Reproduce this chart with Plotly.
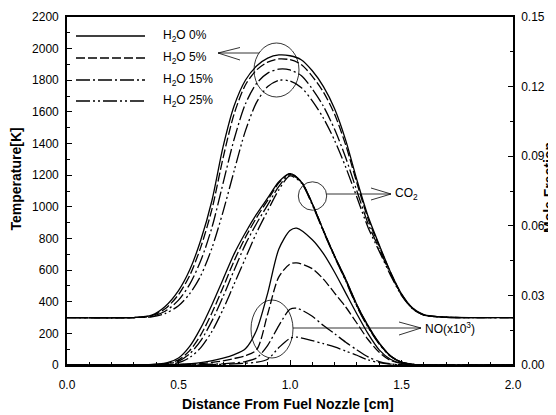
import plotly.graph_objects as go

# ---------------- data ----------------
x_T = [0, 0.3, 0.38, 0.44, 0.5, 0.55, 0.6, 0.65, 0.7, 0.75, 0.8, 0.85, 0.9, 0.95, 1.0,
       1.05, 1.1, 1.15, 1.2, 1.25, 1.3, 1.35, 1.4, 1.45, 1.5, 1.55, 1.6, 1.7, 2.0]
T_h2o0 = [300, 300, 315, 370, 470, 600, 790, 1040, 1380, 1640, 1800, 1890, 1940, 1960, 1955,
          1930, 1860, 1760, 1620, 1420, 1170, 940, 760, 590, 450, 360, 318, 302, 300]
T_h2o5 = [300, 300, 312, 355, 445, 565, 745, 985, 1310, 1590, 1770, 1865, 1915, 1935, 1930,
          1900, 1825, 1725, 1585, 1390, 1150, 925, 752, 587, 448, 358, 317, 302, 300]
T_h2o15 = [300, 300, 308, 340, 410, 510, 660, 870, 1150, 1430, 1650, 1780, 1845, 1870, 1865,
           1830, 1745, 1635, 1490, 1310, 1100, 895, 735, 578, 443, 356, 316, 302, 300]
T_h2o25 = [300, 300, 305, 325, 375, 450, 565, 740, 970, 1230, 1480, 1660, 1760, 1800, 1795,
           1755, 1670, 1560, 1420, 1250, 1060, 870, 720, 570, 440, 355, 316, 302, 300]

x_CO2 = [0, 0.35, 0.45, 0.5, 0.55, 0.6, 0.65, 0.7, 0.75, 0.8, 0.85, 0.9, 0.95, 1.0,
         1.05, 1.1, 1.15, 1.2, 1.25, 1.3, 1.35, 1.4, 1.45, 1.5, 1.55, 1.6, 2.0]
CO2_h2o0 = [0, 0, 0.001, 0.003, 0.008, 0.016, 0.026, 0.037, 0.048, 0.057, 0.065, 0.072, 0.079, 0.0825,
            0.079, 0.0695, 0.058, 0.047, 0.037, 0.026, 0.017, 0.0095, 0.004, 0.0012, 0.0003, 0, 0]
CO2_h2o5 = [0, 0, 0.0007, 0.0022, 0.0062, 0.013, 0.0225, 0.0335, 0.045, 0.055, 0.0635, 0.071, 0.0785, 0.0825,
            0.079, 0.0695, 0.058, 0.047, 0.0368, 0.0258, 0.0168, 0.0094, 0.004, 0.0012, 0.0003, 0, 0]
CO2_h2o15 = [0, 0, 0.0005, 0.0016, 0.0048, 0.0105, 0.019, 0.0295, 0.041, 0.052, 0.061, 0.069, 0.077, 0.082,
             0.079, 0.0695, 0.0578, 0.0468, 0.0365, 0.0255, 0.0165, 0.0092, 0.0039, 0.0012, 0.0003, 0, 0]
CO2_h2o25 = [0, 0, 0.0003, 0.001, 0.0032, 0.0075, 0.0145, 0.024, 0.035, 0.046, 0.057, 0.0665, 0.0755, 0.0815,
             0.0785, 0.069, 0.0575, 0.0465, 0.0362, 0.0252, 0.0163, 0.009, 0.0038, 0.0011, 0.0003, 0, 0]

x_NO = [0, 0.5, 0.6, 0.7, 0.75, 0.8, 0.85, 0.9, 0.95, 1.0, 1.03, 1.1, 1.15, 1.2,
        1.25, 1.3, 1.35, 1.4, 1.45, 1.5, 1.6, 2.0]
NO_h2o0 = [0, 0.0003, 0.001, 0.003, 0.0045, 0.007, 0.015, 0.031, 0.050, 0.058, 0.059, 0.054, 0.048, 0.040,
           0.031, 0.022, 0.0135, 0.0065, 0.0025, 0.0007, 0, 0]
NO_h2o5 = [0, 0.0002, 0.0006, 0.0018, 0.0028, 0.004, 0.0065, 0.022, 0.038, 0.0435, 0.044, 0.0415, 0.037, 0.031,
           0.025, 0.018, 0.011, 0.0055, 0.002, 0.0006, 0, 0]
NO_h2o15 = [0, 0.0001, 0.0003, 0.0005, 0.0009, 0.0015, 0.003, 0.0085, 0.017, 0.024, 0.0245, 0.021, 0.017, 0.0135,
            0.0098, 0.0065, 0.0035, 0.0015, 0.0005, 0.0001, 0, 0]
NO_h2o25 = [0, 0, 0.0001, 0.0003, 0.0005, 0.0008, 0.0012, 0.0025, 0.0075, 0.0115, 0.012, 0.0105, 0.0092, 0.0078,
            0.006, 0.0042, 0.0022, 0.001, 0.0004, 0.0001, 0, 0]

legend_labels = ["H<sub>2</sub>O 0%", "H<sub>2</sub>O 5%", "H<sub>2</sub>O 15%", "H<sub>2</sub>O 25%"]

# ---------------- styles ----------------
dashes = ["solid", "9px,3px", "14px,3px,2px,3px", "14px,3px,2px,3px,2px,3px"]
LW = 1.3
FONT = "Liberation Sans, Arial, sans-serif"

# plot area in screen pixels (page has an 8px body margin)
OFF = 8
L, R, T, B = 67, 513, 17, 365
W, H = 556 - OFF, 415 - OFF


def px(xp):
    return (xp - L) / (R - L)


def py(yp):
    return (B - yp) / (B - T)


fig = go.Figure()

for ys, d in zip([T_h2o0, T_h2o5, T_h2o15, T_h2o25], dashes):
    fig.add_trace(go.Scatter(x=x_T, y=ys, mode="lines", yaxis="y",
                             line=dict(color="black", width=LW, dash=d, shape="spline", smoothing=0.8),
                             showlegend=False, hoverinfo="skip"))
for ys, d in zip([CO2_h2o0, CO2_h2o5, CO2_h2o15, CO2_h2o25], dashes):
    fig.add_trace(go.Scatter(x=x_CO2, y=ys, mode="lines", yaxis="y2",
                             line=dict(color="black", width=LW, dash=d, shape="spline", smoothing=0.8),
                             showlegend=False, hoverinfo="skip"))
for ys, d in zip([NO_h2o0, NO_h2o5, NO_h2o15, NO_h2o25], dashes):
    fig.add_trace(go.Scatter(x=x_NO, y=ys, mode="lines", yaxis="y2",
                             line=dict(color="black", width=LW, dash=d, shape="spline", smoothing=0.8),
                             showlegend=False, hoverinfo="skip"))

shapes = []
annotations = []

# legend (drawn)
leg_rows = [36, 58, 80, 101]
for yrow, d, lab in zip(leg_rows, dashes, legend_labels):
    shapes.append(dict(type="line", xref="paper", yref="paper", x0=px(76), x1=px(145),
                       y0=py(yrow), y1=py(yrow), line=dict(color="black", width=LW, dash=d)))
    annotations.append(dict(xref="paper", yref="paper", x=px(161), y=py(yrow), text=lab,
                            showarrow=False, xanchor="left", yanchor="middle",
                            font=dict(family=FONT, size=12, color="black")))

thin = dict(color="black", width=0.8)


def seg(x0, y0, x1, y1):
    shapes.append(dict(type="line", xref="paper", yref="paper", x0=px(x0), y0=py(y0),
                       x1=px(x1), y1=py(y1), line=thin))


def ell(cx, cy, rx, ry):
    shapes.append(dict(type="circle", xref="paper", yref="paper", x0=px(cx - rx), x1=px(cx + rx),
                       y0=py(cy + ry), y1=py(cy - ry), line=thin))


# temperature circle + arrow to the left
ell(276.5, 70, 22.5, 27)
seg(259, 53, 218, 53)
seg(218, 53, 240, 47.5)
seg(218, 53, 240, 60)

# CO2 circle + arrow
ell(312.5, 196, 14.2, 14.2)
seg(326.5, 194, 391, 194)
seg(391, 194, 371, 188)
seg(391, 194, 371, 200)
annotations.append(dict(xref="paper", yref="paper", x=px(393), y=py(194), text="CO<sub>2</sub>",
                        showarrow=False, xanchor="left", yanchor="middle",
                        font=dict(family=FONT, size=12, color="black")))

# NO circle + arrow
ell(272, 329, 21, 29)
seg(293, 328, 421, 328)
seg(421, 328, 399, 322)
seg(421, 328, 399, 335)
annotations.append(dict(xref="paper", yref="paper", x=px(423), y=py(328), text="NO(x10<sup>3</sup>)",
                        showarrow=False, xanchor="left", yanchor="middle",
                        font=dict(family=FONT, size=12, color="black")))

# axis titles
title_font = dict(family=FONT, size=14, color="black")
annotations.append(dict(xref="paper", yref="paper", x=px(288), y=py(404),
                        text="<b>Distance From Fuel Nozzle [cm]</b>", showarrow=False,
                        xanchor="center", yanchor="middle", font=title_font))
annotations.append(dict(xref="paper", yref="paper", x=px(15.5), y=py(179),
                        text="<b>Temperature[K]</b>", showarrow=False, textangle=-90,
                        xanchor="center", yanchor="middle", font=title_font))
annotations.append(dict(xref="paper", yref="paper", x=px(549), y=py(188),
                        text="<b>Mole Fraction</b>", showarrow=False, textangle=-90,
                        xanchor="center", yanchor="middle", font=title_font))

tick_font = dict(family=FONT, size=12, color="black")
axis_common = dict(showline=True, linecolor="black", linewidth=1.6, ticks="inside",
                   ticklen=5, tickwidth=1, tickcolor="black", showgrid=False,
                   zeroline=False, tickfont=tick_font, automargin=False)

fig.update_layout(
    width=W, height=H,
    margin=dict(l=L - OFF, r=W - (R - OFF), t=T - OFF, b=H - (B - OFF), pad=0),
    paper_bgcolor="white", plot_bgcolor="white",
    showlegend=False,
    shapes=shapes, annotations=annotations,
    xaxis=dict(range=[0, 2.0], dtick=0.5, tick0=0, tickformat=".1f", mirror=True,
               minor=dict(dtick=0.1, ticks="inside", ticklen=3, tickcolor="black"),
               ticklabelstandoff=8, **axis_common),
    yaxis=dict(range=[0, 2200], dtick=200, tick0=0,
               minor=dict(dtick=100, ticks="inside", ticklen=3, tickcolor="black"),
               ticklabelstandoff=4, **axis_common),
    yaxis2=dict(range=[0, 0.15], dtick=0.03, tick0=0, tickformat=".2f", overlaying="y",
                side="right",
                minor=dict(dtick=0.015, ticks="inside", ticklen=3, tickcolor="black"),
                ticklabelstandoff=4, **axis_common),
)

fig.write_html("out.html")
